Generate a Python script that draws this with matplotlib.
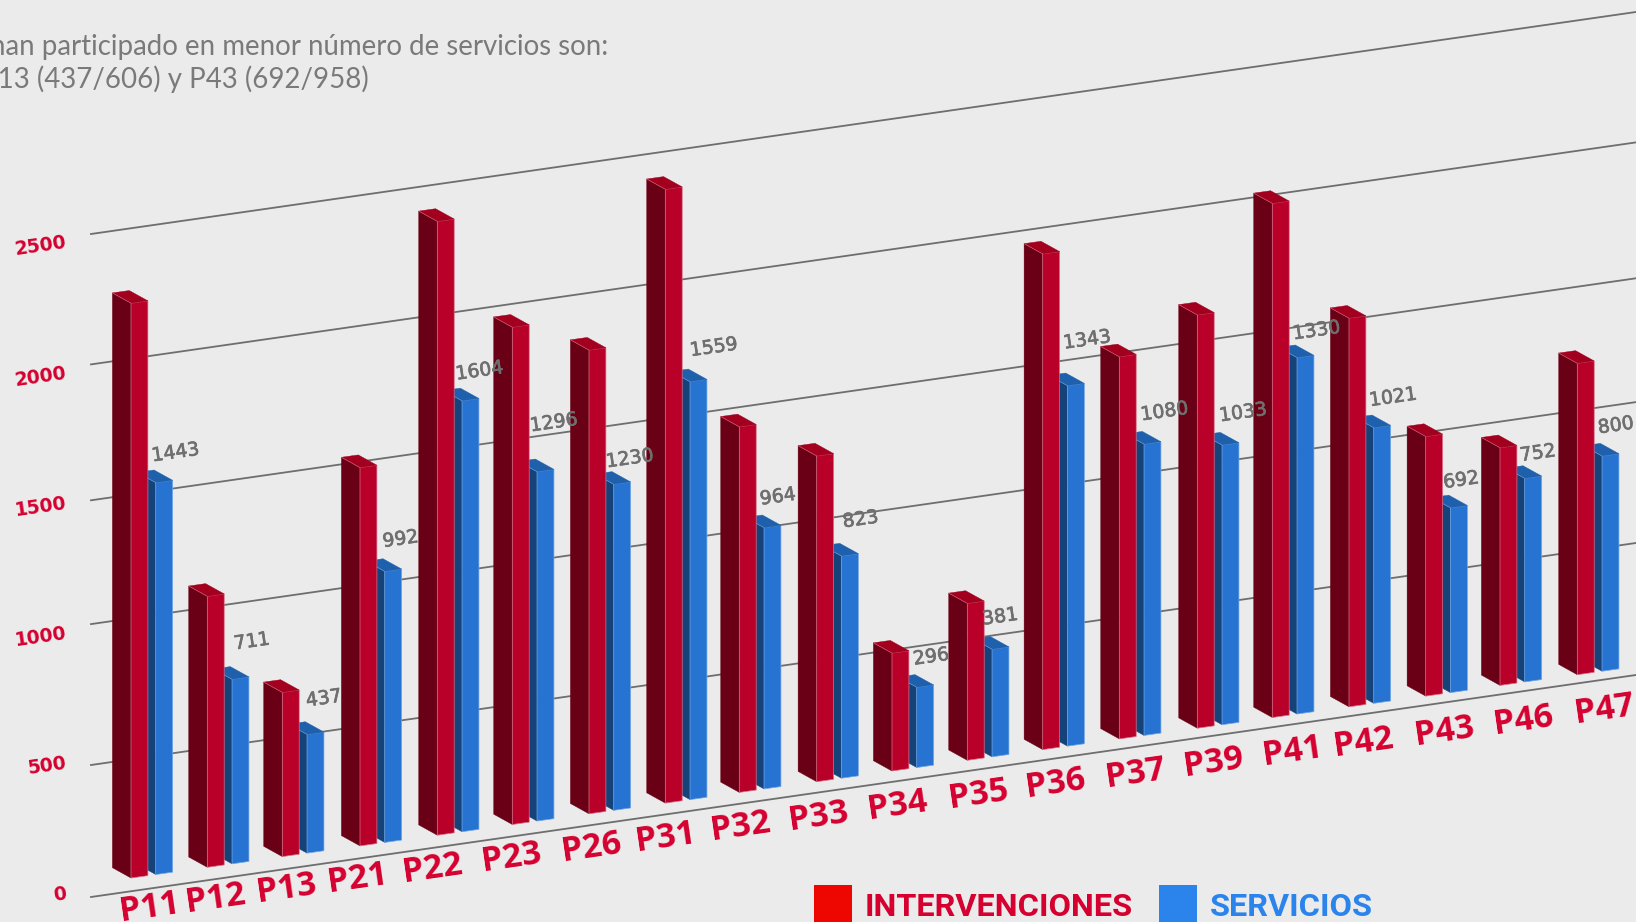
import matplotlib
matplotlib.use('Agg')
import matplotlib.pyplot as plt
import matplotlib.patheffects as pe
from matplotlib.patches import Rectangle

# data
categorias = ['P11', 'P12', 'P13', 'P21', 'P22', 'P23', 'P26', 'P31', 'P32', 'P33',
              'P34', 'P35', 'P36', 'P37', 'P39', 'P41', 'P42', 'P43', 'P46', 'P47']
intervenciones = [2121, 1000, 606, 1396, 2265, 1835, 1711, 2265, 1349, 1202,
                  435, 579, 1829, 1410, 1525, 1897, 1434, 958, 877, 1149]
# printed numbers
rotulos = [1443, 711, 437, 992, 1604, 1296, 1230, 1559, 964, 823,
           296, 381, 1343, 1080, 1033, 1330, 1021, 692, 752, 800]
# height of the blue bars as drawn, they do not follow the printed number exactly
servicios = [1446, 681, 438, 1000, 1590, 1289, 1203, 1542, 964, 820,
             296, 397, 1330, 1075, 1032, 1315, 1017, 682, 751, 794]
ticks = [0, 500, 1000, 1500, 2000, 2500]

# layout, in pixels of the image
frente_x = [131, 207.3, 282.3, 360, 437.3, 512.3, 589, 665.3, 739.3, 816.7,
            892, 967.3, 1042.7, 1119.3, 1197.3, 1272.3, 1349, 1425.7, 1500, 1577.3]
rotulo_x = [151.7, 234, 306, 382.7, 455.7, 530, 606, 690, 760, 842.7,
            913.3, 982.3, 1063.3, 1140.7, 1219.3, 1292.7, 1369.3, 1443.3, 1520, 1598]
rotulo_y = [456, 644, 701, 541.7, 374.3, 426, 462, 350.7, 499.3, 522,
            659.3, 619.3, 343.3, 415, 416, 334, 400.7, 482.7, 455.7, 428]
etiqueta_x = [150, 216, 287, 358, 433, 512, 592, 666, 741, 819,
              897, 979, 1056, 1135, 1213, 1292, 1363, 1444, 1523, 1604]
grid_desvio = [0, 0.4, -8.1, 0.5, -3, -1]

fondo = '#ebebeb'
rojo = ('#b80028', '#6a0015', '#a3001f')
azul = ('#2673d2', '#154379', '#1f60ac')
rot = 8.2


# oblique projection: category, value, depth -> image pixels
def px(i, frac=0, depth=0):
    return frente_x[i] + 76.1 * frac - 18.6 * depth


def py(i, frac=0, val=0, depth=0):
    return 878 - 10.7 * (i + frac) - 0.271 * val - 10.3 * depth


def bar3d(ax, i, frac, val, colors, zorder):
    w = frac + 0.222
    front = [(px(i, frac), py(i, frac)), (px(i, w), py(i, w)),
             (px(i, w), py(i, w, val)), (px(i, frac), py(i, frac, val))]
    left = [(px(i, frac), py(i, frac)), (px(i, frac, 1), py(i, frac, 0, 1)),
            (px(i, frac, 1), py(i, frac, val, 1)), (px(i, frac), py(i, frac, val))]
    top = [(px(i, frac), py(i, frac, val)), (px(i, w), py(i, w, val)),
           (px(i, w, 1), py(i, w, val, 1)), (px(i, frac, 1), py(i, frac, val, 1))]
    edge = '#d8708a' if colors is rojo else '#6fa5e6'
    ax.fill(*zip(*left), facecolor=colors[1], edgecolor=colors[1], lw=0.3, zorder=zorder)
    ax.fill(*zip(*front), facecolor=colors[0], edgecolor=edge, lw=0.5, zorder=zorder)
    ax.fill(*zip(*top), facecolor=colors[2], edgecolor=colors[2], lw=0.3, zorder=zorder)
    ax.plot([px(i, frac), px(i, frac, 1)], [py(i, frac, val), py(i, frac, val, 1)],
            color=edge, lw=0.4, zorder=zorder)


fig = plt.figure(figsize=(16.36, 9.22), dpi=100, facecolor=fondo)
ax = fig.add_axes([0, 0, 1, 1])
ax.set_xlim(0, 1636)
ax.set_ylim(922, 0)
ax.axis('off')

# grid lines
for t, d in zip(ticks, grid_desvio):
    y0 = 897 - 0.2648 * t + d
    ax.plot([91, 1640], [y0, y0 - 0.1437 * 1549], color='#6e6e6e', lw=1.3, zorder=1)
    ax.text(66.5, 893.5 - 0.2604 * t, str(t), color='#d5002f', fontsize=13.5, fontweight='bold',
            family='DejaVu Sans', ha='right', va='center', rotation=rot, rotation_mode='anchor')

# bars, blue first because the red one covers it
for i in range(len(categorias)):
    bar3d(ax, i, 0.325, servicios[i], azul, 2)
    bar3d(ax, i, 0, intervenciones[i], rojo, 3)
    ax.text(rotulo_x[i], rotulo_y[i], str(rotulos[i]), color='#6f6f6f', fontsize=13.6,
            family='DejaVu Sans', ha='left', va='center', rotation=rot, rotation_mode='anchor',
            zorder=4, path_effects=[pe.withStroke(linewidth=0.5, foreground='#6f6f6f')])
    ax.text(etiqueta_x[i], 907.5 - 0.136 * (etiqueta_x[i] - 150), categorias[i], color='#d5002f',
            fontsize=24.5, fontweight='bold', family='Open Sans', ha='center', va='center',
            rotation=rot, rotation_mode='anchor', zorder=4)

# text at top, cut by the left edge as in the original
ax.text(608, 47, 'han participado en menor número de servicios son:', color='#7a7a7a', fontsize=19.9,
        family='Lato', ha='right', va='center')
ax.text(369, 79, 'P13 (437/606) y P43 (692/958)', color='#7a7a7a', fontsize=19.9,
        family='Lato', ha='right', va='center')

# legend
ax.add_patch(Rectangle((814, 885), 38, 37, color='#ee0600', lw=0))
ax.add_patch(Rectangle((1159, 885), 38, 37, color='#2b84ec', lw=0))
ax.text(865, 916, 'INTERVENCIONES', color='#d5002f', fontsize=23.4, fontweight='bold',
        family='Roboto', ha='left', va='baseline')
ax.text(1210, 916, 'SERVICIOS', color='#2b84ec', fontsize=23.4, fontweight='bold',
        family='Roboto', ha='left', va='baseline')

fig.savefig('out.png', dpi=100, facecolor=fondo)
